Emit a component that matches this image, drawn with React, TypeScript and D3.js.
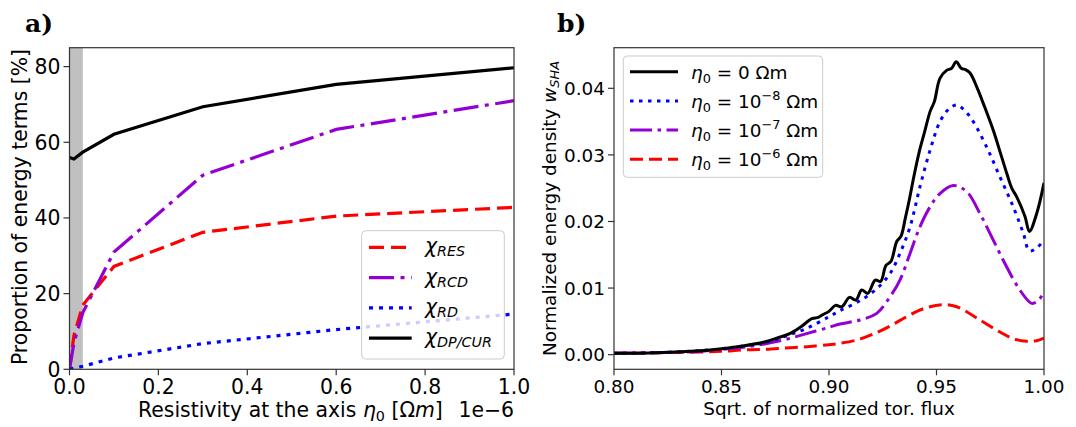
import React from "react";
import * as d3 from "d3";

// ---------- Panel a) data ----------
const eta = [0, 0.01, 0.03, 0.1, 0.3, 0.6, 1.0]; // ×1e-6 Ωm
const chiRES = [0, 9, 17, 27.2, 36.2, 40.5, 42.8];
const chiRCD = [0, 7, 15, 31, 51.3, 63.4, 71];
const chiRD = [0, 0.3, 0.8, 3, 6.8, 10.5, 14.6];
const chiDP = [56, 55.6, 57.4, 62.1, 69.4, 75.3, 79.7];
const shadeEnd = 0.03;
const xTicksA = [0, 0.2, 0.4, 0.6, 0.8, 1.0];
const yTicksA = [0, 20, 40, 60, 80];

// ---------- Panel b) data ----------
const fluxBlack = [0.8, 0.82, 0.84, 0.85, 0.86, 0.87, 0.876, 0.882, 0.887, 0.892, 0.895, 0.897, 0.9, 0.903, 0.906, 0.9095, 0.9125, 0.9152, 0.918, 0.9215, 0.924, 0.9265, 0.9288, 0.9315, 0.9335, 0.9355, 0.9375, 0.9395, 0.942, 0.9445, 0.947, 0.949, 0.9516, 0.9547, 0.957, 0.9592, 0.9615, 0.9635, 0.9656, 0.969, 0.9718, 0.9764, 0.98, 0.9827, 0.985, 0.9873, 0.9912, 0.9932, 0.9966, 1.0];
const wEta0 = [0.0002, 0.0003, 0.0006, 0.0009, 0.0013, 0.0019, 0.0025, 0.0032, 0.0042, 0.0054, 0.0056, 0.006, 0.0065, 0.0074, 0.0072, 0.0086, 0.0082, 0.0097, 0.0092, 0.0112, 0.011, 0.0134, 0.014, 0.017, 0.0178, 0.0205, 0.0235, 0.0268, 0.0305, 0.0335, 0.0365, 0.038, 0.0415, 0.0427, 0.043, 0.044, 0.043, 0.0428, 0.0423, 0.04, 0.0377, 0.0337, 0.03, 0.0272, 0.025, 0.0237, 0.0207, 0.0185, 0.0212, 0.0258];

const fluxE8 = [0.8, 0.82, 0.84, 0.85, 0.86, 0.87, 0.88, 0.89, 0.9, 0.9051, 0.9144, 0.9222, 0.9284, 0.933, 0.9377, 0.9423, 0.947, 0.9516, 0.9555, 0.9594, 0.963, 0.9671, 0.9733, 0.9795, 0.9857, 0.9904, 0.9932, 0.9965, 1.0];
const wEta8 = [0.0002, 0.0003, 0.0006, 0.0009, 0.0013, 0.0018, 0.0028, 0.004, 0.0057, 0.0066, 0.0081, 0.0099, 0.0122, 0.0152, 0.0192, 0.0252, 0.0307, 0.035, 0.0368, 0.0375, 0.0367, 0.035, 0.0312, 0.0267, 0.0222, 0.0182, 0.0156, 0.016, 0.0172];

const fluxE7 = [0.8, 0.82, 0.84, 0.85, 0.86, 0.87, 0.88, 0.89, 0.9, 0.9051, 0.9144, 0.9222, 0.9284, 0.933, 0.9377, 0.9423, 0.947, 0.9516, 0.9578, 0.964, 0.9702, 0.9764, 0.9826, 0.9888, 0.9943, 0.9975, 1.0];
const wEta7 = [0.0002, 0.0003, 0.0005, 0.0008, 0.0011, 0.0016, 0.0023, 0.0032, 0.0041, 0.0046, 0.0052, 0.0062, 0.0087, 0.0112, 0.0152, 0.0192, 0.0222, 0.0242, 0.0254, 0.0245, 0.0212, 0.0172, 0.0132, 0.0097, 0.0077, 0.0082, 0.0094];

const fluxE6 = [0.8, 0.82, 0.84, 0.85, 0.86, 0.87, 0.88, 0.89, 0.9, 0.9051, 0.913, 0.9206, 0.9284, 0.9361, 0.9439, 0.9524, 0.9594, 0.9702, 0.9795, 0.9857, 0.992, 0.9965, 1.0];
const wEta6 = [0.0002, 0.0003, 0.0004, 0.0005, 0.0007, 0.0008, 0.001, 0.0012, 0.0015, 0.0017, 0.0022, 0.0031, 0.0043, 0.0057, 0.0069, 0.0075, 0.0072, 0.0052, 0.0034, 0.0024, 0.002, 0.0021, 0.0025];

const xTicksB = [0.8, 0.85, 0.9, 0.95, 1.0];
const yTicksB = [0, 0.01, 0.02, 0.03, 0.04];

const FONT = "DejaVu Sans";
const FSA = 20.4; // panel a text size
const FSB = 18.4; // panel b text size

const DASH = "13,6";
const DASHDOT = "22,5.5,3.5,5.5";
const DOT = "3.5,5.5";
const DASH_A = "15,7";
const DASHDOT_A = "25,6.5,4,6.5";
const DOT_A = "4,6";

export default function App() {
  const top = 47.7, bottom = 369.3;
  const xA = d3.scaleLinear().domain([0, 1]).range([69.5, 514]);
  const yA = d3.scaleLinear().domain([0, 85]).range([bottom, top]);
  const xB = d3.scaleLinear().domain([0.8, 1.0]).range([614, 1044]);
  const yB = d3.scaleLinear().domain([-0.0022, 0.0461]).range([bottom, top]);

  const lineA = (vals: number[]) =>
    d3.line<number>().x((_, i) => xA(eta[i])).y((v) => yA(v))(vals) || "";
  const lineB = (xs: number[], ys: number[]) =>
    d3
      .line<number>()
      .x((_, i) => xB(xs[i]))
      .y((v) => yB(v))
      .curve(d3.curveCatmullRom.alpha(0.5))(ys) || "";

  const spine = "#333";
  const fmtA = d3.format(".1f");
  const fmtB = d3.format(".2f");

  const legA = [
    { label: "RES", color: "red", dash: DASH_A },
    { label: "RCD", color: "#9400D3", dash: DASHDOT_A },
    { label: "RD", color: "blue", dash: DOT_A },
    { label: "DP/CUR", color: "black", dash: "" },
  ];
  const legB = [
    { exp: "", color: "black", dash: "" },
    { exp: "−8", color: "blue", dash: DOT },
    { exp: "−7", color: "#9400D3", dash: DASHDOT },
    { exp: "−6", color: "red", dash: DASH },
  ];

  return (
    <svg
      width={1076}
      height={427}
      style={{ position: "absolute", left: 0, top: 0, background: "white" }}
      fontFamily={FONT}
    >
      <rect x={0} y={0} width={1076} height={427} fill="white" />
      <defs>
        <clipPath id="clipA">
          <rect x={xA(0)} y={top} width={xA(1) - xA(0)} height={bottom - top} />
        </clipPath>
        <clipPath id="clipB">
          <rect x={xB(0.8)} y={top} width={xB(1) - xB(0.8)} height={bottom - top} />
        </clipPath>
      </defs>

      {/* ---------------- Panel a ---------------- */}
      <text x={25} y={32} fontFamily="DejaVu Serif" fontWeight="bold" fontSize={25}>
        a)
      </text>
      <rect
        x={xA(0)}
        y={top}
        width={xA(shadeEnd) - xA(0)}
        height={bottom - top}
        fill="#c0c0c0"
      />
      <g clipPath="url(#clipA)" fill="none" strokeWidth={3.2}>
        <path d={lineA(chiRES)} stroke="red" strokeDasharray={DASH_A} />
        <path d={lineA(chiRCD)} stroke="#9400D3" strokeDasharray={DASHDOT_A} />
        <path d={lineA(chiRD)} stroke="blue" strokeDasharray={DOT_A} />
        <path d={lineA(chiDP)} stroke="black" />
      </g>
      <rect
        x={xA(0)}
        y={top}
        width={xA(1) - xA(0)}
        height={bottom - top}
        fill="none"
        stroke={spine}
        strokeWidth={1.2}
      />
      {xTicksA.map((t) => (
        <g key={"xa" + t}>
          <line x1={xA(t)} x2={xA(t)} y1={bottom} y2={bottom + 6} stroke={spine} strokeWidth={1.2} />
          <text x={xA(t)} y={393.5} fontSize={FSA} textAnchor="middle">
            {fmtA(t)}
          </text>
        </g>
      ))}
      {yTicksA.map((t) => (
        <g key={"ya" + t}>
          <line x1={xA(0) - 6} x2={xA(0)} y1={yA(t)} y2={yA(t)} stroke={spine} strokeWidth={1.2} />
          <text x={xA(0) - 9} y={yA(t) + 7.3} fontSize={FSA} textAnchor="end">
            {t}
          </text>
        </g>
      ))}
      <text x={138} y={417} fontSize={FSA}>
        Resistivity at the axis <tspan fontStyle="italic">η</tspan>
        <tspan fontSize={14.3} dy={4}>0</tspan>
        <tspan dy={-4}> [Ω</tspan>
        <tspan fontStyle="italic">m</tspan>]
      </text>
      <text x={xA(1)} y={417} fontSize={FSA} textAnchor="end">
        1e−6
      </text>
      <text
        transform={`translate(27,${(top + bottom) / 2 - 1.5}) rotate(-90)`}
        fontSize={FSA}
        textAnchor="middle"
      >
        Proportion of energy terms [%]
      </text>

      {/* legend a */}
      <rect
        x={361.7}
        y={230.7}
        width={142.6}
        height={128.3}
        rx={4}
        fill="white"
        fillOpacity={0.8}
        stroke="#cccccc"
        strokeWidth={1}
      />
      {legA.map((d, i) => {
        const cy = 247.3 + i * 30.3;
        return (
          <g key={"la" + i}>
            <line
              x1={369}
              x2={411.7}
              y1={cy}
              y2={cy}
              stroke={d.color}
              strokeWidth={3.2}
              strokeDasharray={d.dash || undefined}
            />
            <text x={425} y={cy + 6} fontSize={FSA} fontStyle="italic">
              χ<tspan fontSize={14.3} dy={3}>{d.label}</tspan>
            </text>
          </g>
        );
      })}

      {/* ---------------- Panel b ---------------- */}
      <text x={557} y={32} fontFamily="DejaVu Serif" fontWeight="bold" fontSize={25}>
        b)
      </text>
      <g clipPath="url(#clipB)" fill="none" strokeWidth={3}>
        <path d={lineB(fluxE6, wEta6)} stroke="red" strokeDasharray={DASH} />
        <path d={lineB(fluxE7, wEta7)} stroke="#9400D3" strokeDasharray={DASHDOT} />
        <path d={lineB(fluxE8, wEta8)} stroke="blue" strokeDasharray={DOT} />
        <path d={lineB(fluxBlack, wEta0)} stroke="black" />
      </g>
      <rect
        x={xB(0.8)}
        y={top}
        width={xB(1) - xB(0.8)}
        height={bottom - top}
        fill="none"
        stroke={spine}
        strokeWidth={1.2}
      />
      {xTicksB.map((t) => (
        <g key={"xb" + t}>
          <line x1={xB(t)} x2={xB(t)} y1={bottom} y2={bottom + 6} stroke={spine} strokeWidth={1.2} />
          <text x={xB(t)} y={392.5} fontSize={FSB} textAnchor="middle">
            {fmtB(t)}
          </text>
        </g>
      ))}
      {yTicksB.map((t) => (
        <g key={"yb" + t}>
          <line x1={xB(0.8) - 6} x2={xB(0.8)} y1={yB(t)} y2={yB(t)} stroke={spine} strokeWidth={1.2} />
          <text x={xB(0.8) - 9} y={yB(t) + 6.6} fontSize={FSB} textAnchor="end">
            {fmtB(t)}
          </text>
        </g>
      ))}
      <text x={xB(0.9)} y={415} fontSize={FSB} textAnchor="middle">
        Sqrt. of normalized tor. flux
      </text>
      <text
        transform={`translate(556,${(top + bottom) / 2}) rotate(-90)`}
        fontSize={FSB}
        textAnchor="middle"
      >
        Normalized energy density <tspan fontStyle="italic">w</tspan>
        <tspan fontStyle="italic" fontSize={12.9} dy={3}>SHA</tspan>
      </text>

      {/* legend b */}
      <rect
        x={623.3}
        y={56}
        width={199.4}
        height={121.3}
        rx={4}
        fill="white"
        fillOpacity={0.8}
        stroke="#cccccc"
        strokeWidth={1}
      />
      {legB.map((d, i) => {
        const cy = 71.7 + i * 29.2;
        return (
          <g key={"lb" + i}>
            <line
              x1={630}
              x2={678}
              y1={cy}
              y2={cy}
              stroke={d.color}
              strokeWidth={3}
              strokeDasharray={d.dash || undefined}
            />
            <text x={691} y={cy + 6.8} fontSize={FSB}>
              <tspan fontStyle="italic">η</tspan>
              <tspan fontSize={12.9} dy={4}>0</tspan>
              {d.exp === "" ? (
                <tspan dy={-4}> = 0 Ωm</tspan>
              ) : (
                <>
                  <tspan dy={-4}> = 10</tspan>
                  <tspan fontSize={12.9} dy={-8}>{d.exp}</tspan>
                  <tspan dy={8}> Ωm</tspan>
                </>
              )}
            </text>
          </g>
        );
      })}
    </svg>
  );
}
